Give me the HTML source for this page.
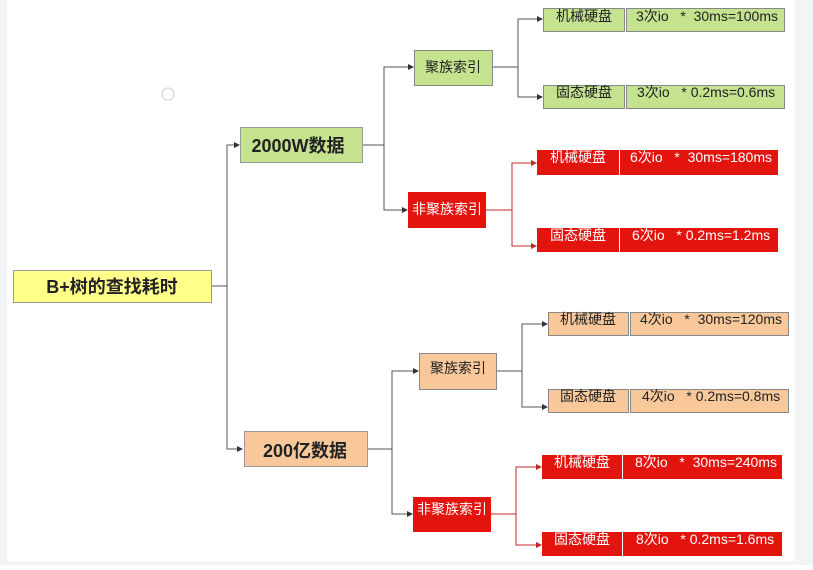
<!DOCTYPE html>
<html><head><meta charset="utf-8"><style>
html,body{margin:0;padding:0;background:#fff;}
body{width:813px;height:565px;overflow:hidden;}
text{font-family:"Liberation Sans","Noto Sans CJK SC",sans-serif;}
</style></head><body>
<svg width="813" height="565" viewBox="0 0 813 565" xmlns="http://www.w3.org/2000/svg">
<defs>
<marker id="ag" markerWidth="6" markerHeight="6" refX="5" refY="3" orient="auto" markerUnits="userSpaceOnUse"><path d="M0,0 L6,3 L0,6z" fill="#333"/></marker>
<marker id="ar" markerWidth="6" markerHeight="6" refX="5" refY="3" orient="auto" markerUnits="userSpaceOnUse"><path d="M0,0 L6,3 L0,6z" fill="#c0282a"/></marker>
</defs>
<rect x="0" y="0" width="813" height="565" fill="#fff"/>
<rect x="0" y="0" width="7" height="565" fill="#f3f4f8"/>
<rect x="795" y="0" width="18" height="565" fill="#f3f4f8"/>
<rect x="0" y="561" width="813" height="4" fill="#f3f4f8"/>
<circle cx="168" cy="94" r="6" fill="none" stroke="#ddd" stroke-width="1.5"/>

<g fill="none" stroke="#555" stroke-width="1">
<path d="M211,286 H227 V145 H239" marker-end="url(#ag)"/>
<path d="M227,286 V449 H242" marker-end="url(#ag)"/>
<path d="M362,145 H384 V67 H413" marker-end="url(#ag)"/>
<path d="M384,145 V210 H407" marker-end="url(#ag)"/>
<path d="M492,67 H518 V19 H542" marker-end="url(#ag)"/>
<path d="M518,67 V97 H542" marker-end="url(#ag)"/>
<path d="M368,449 H392 V371 H418" marker-end="url(#ag)"/>
<path d="M392,449 V514 H412" marker-end="url(#ag)"/>
<path d="M497,371 H522 V324 H547" marker-end="url(#ag)"/>
<path d="M522,371 V407 H547" marker-end="url(#ag)"/>
</g>
<g fill="none" stroke="#c0282a" stroke-width="1">
<path d="M486,210 H512 V163 H536" marker-end="url(#ar)"/>
<path d="M512,210 V246 H536" marker-end="url(#ar)"/>
<path d="M491,514 H516 V467 H541" marker-end="url(#ar)"/>
<path d="M516,514 V545 H541" marker-end="url(#ar)"/>
</g>

<rect x="13.5" y="270.5" width="198" height="32" fill="#ffff8a" stroke="#999"/>
<text x="112" y="293" font-size="18" font-weight="bold" text-anchor="middle" fill="#222">B+树的查找耗时</text>

<rect x="240.5" y="127.5" width="122" height="35" fill="#c5e28f" stroke="#999"/>
<text x="298" y="152" font-size="18" font-weight="bold" text-anchor="middle" fill="#222">2000W数据</text>
<rect x="244.5" y="431.5" width="123" height="35" fill="#f8c89b" stroke="#999"/>
<text x="305" y="457" font-size="18" font-weight="bold" text-anchor="middle" fill="#222">200亿数据</text>

<rect x="414.5" y="50.5" width="78" height="35" fill="#c5e28f" stroke="#888"/>
<text x="453" y="72" font-size="14" text-anchor="middle" fill="#222">聚族索引</text>
<rect x="408" y="192" width="78" height="36" fill="#e3140e"/>
<text x="447" y="214" font-size="14" text-anchor="middle" fill="#fff">非聚族索引</text>
<rect x="419.5" y="353.5" width="77" height="36" fill="#f8c89b" stroke="#888"/>
<text x="458" y="373" font-size="14" text-anchor="middle" fill="#222">聚族索引</text>
<rect x="413" y="497" width="78" height="35" fill="#e3140e"/>
<text x="452" y="514" font-size="14" text-anchor="middle" fill="#fff">非聚族索引</text>

<g font-size="14" fill="#222">
<rect x="543.5" y="8.5" width="81" height="23" fill="#c5e28f" stroke="#888"/>
<rect x="626.5" y="8.5" width="158" height="23" fill="#c5e28f" stroke="#888"/>
<text x="584" y="21" text-anchor="middle">机械硬盘</text>
<text x="636" y="21" xml:space="preserve">3次io   *  30ms=100ms</text>
<rect x="543.5" y="85.5" width="81" height="23" fill="#c5e28f" stroke="#888"/>
<rect x="626.5" y="85.5" width="158" height="23" fill="#c5e28f" stroke="#888"/>
<text x="584" y="97" text-anchor="middle">固态硬盘</text>
<text x="637" y="97" xml:space="preserve">3次io   * 0.2ms=0.6ms</text>

<rect x="548.5" y="312.5" width="80" height="23" fill="#f8c89b" stroke="#888"/>
<rect x="630.5" y="312.5" width="158" height="23" fill="#f8c89b" stroke="#888"/>
<text x="588" y="324" text-anchor="middle">机械硬盘</text>
<text x="640" y="324" xml:space="preserve">4次io   *  30ms=120ms</text>
<rect x="548.5" y="389.5" width="80" height="23" fill="#f8c89b" stroke="#888"/>
<rect x="630.5" y="389.5" width="158" height="23" fill="#f8c89b" stroke="#888"/>
<text x="588" y="401" text-anchor="middle">固态硬盘</text>
<text x="642" y="401" xml:space="preserve">4次io   * 0.2ms=0.8ms</text>
</g>
<g font-size="14" fill="#fff">
<rect x="537" y="150" width="82" height="25" fill="#e3140e"/>
<rect x="620" y="150" width="158" height="25" fill="#e3140e"/>
<text x="578" y="162" text-anchor="middle">机械硬盘</text>
<text x="630" y="162" xml:space="preserve">6次io   *  30ms=180ms</text>
<rect x="537" y="228" width="82" height="24" fill="#e3140e"/>
<rect x="620" y="228" width="158" height="24" fill="#e3140e"/>
<text x="578" y="240" text-anchor="middle">固态硬盘</text>
<text x="632" y="240" xml:space="preserve">6次io   * 0.2ms=1.2ms</text>
<rect x="542" y="455" width="80" height="24" fill="#e3140e"/>
<rect x="623" y="455" width="159" height="24" fill="#e3140e"/>
<text x="582" y="467" text-anchor="middle">机械硬盘</text>
<text x="635" y="467" xml:space="preserve">8次io   *  30ms=240ms</text>
<rect x="542" y="532" width="80" height="24" fill="#e3140e"/>
<rect x="623" y="532" width="159" height="24" fill="#e3140e"/>
<text x="582" y="544" text-anchor="middle">固态硬盘</text>
<text x="636" y="544" xml:space="preserve">8次io   * 0.2ms=1.6ms</text>
</g>
</svg>
</body></html>
